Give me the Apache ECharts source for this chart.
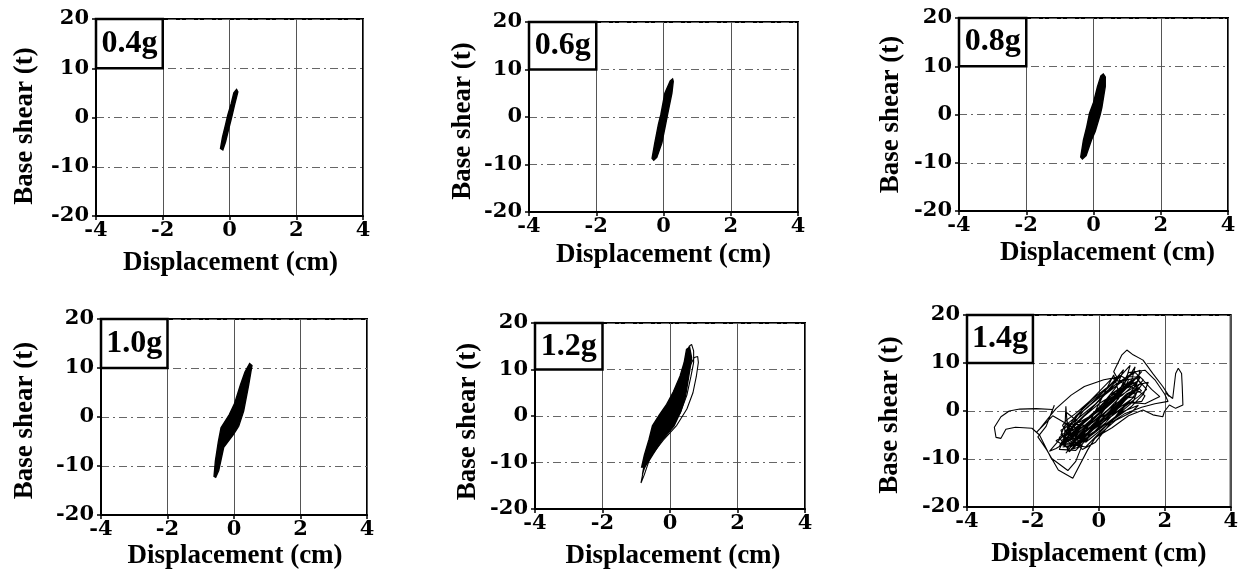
<!DOCTYPE html>
<html>
<head>
<meta charset="utf-8">
<script src="https://cdn.jsdelivr.net/npm/echarts@6/dist/echarts.min.js"></script>
<style>html,body{margin:0;padding:0;background:#fff;}#c{width:1241px;height:571px;}</style>
</head>
<body>
<div id="c"></div>
<script>
// ---- data (displacement cm, base shear t) ----
const labels = ['0.4g', '0.6g', '0.8g', '1.0g', '1.2g', '1.4g'];
const xTicks = [-4, -2, 0, 2, 4];
const yTicks = [-20, -10, 0, 10, 20];

const loop04 = [[0.21,5.7],[0.25,5.2],[0.15,2.5],[0.07,0.2],[-0.03,-2.5],[-0.12,-5.0],[-0.20,-6.6],[-0.27,-6.3],[-0.21,-4.0],[-0.12,-1.5],[-0.05,0.5],[0.05,2.8],[0.13,5.0]];
const loop06 = [[0.27,8.0],[0.29,7.5],[0.25,5.0],[0.12,0.5],[0.05,-2.0],[-0.05,-5.5],[-0.20,-8.5],[-0.29,-9.1],[-0.34,-8.7],[-0.26,-5.5],[-0.15,-1.5],[-0.08,0.5],[0.04,5.0],[0.20,7.6]];
const loop08 = [[0.29,8.4],[0.35,7.8],[0.35,5.8],[0.25,1.5],[0.20,0.0],[0.05,-3.5],[-0.06,-5.3],[-0.22,-8.5],[-0.33,-9.2],[-0.38,-8.8],[-0.30,-5.3],[-0.20,-2.5],[-0.12,0.2],[0.00,2.5],[0.12,5.8],[0.22,8.0]];
const loop10 = [[-0.60,-12.1],[-0.56,-9.0],[-0.47,-5.0],[-0.39,-2.2],[-0.14,0.5],[0.02,2.8],[0.19,6.5],[0.33,9.2],[0.47,10.9],[0.54,10.5],[0.44,6.5],[0.29,1.2],[0.14,-1.9],[-0.01,-3.5],[-0.31,-6.2],[-0.46,-10.9],[-0.55,-12.3]];
const loop12Fill = [[-0.84,-11.0],[-0.76,-8.4],[-0.62,-5.0],[-0.52,-2.1],[-0.32,0.2],[-0.10,2.5],[0.10,5.2],[0.30,8.6],[0.42,11.5],[0.49,14.3],[0.58,14.8],[0.64,12.5],[0.62,11.4],[0.46,4.3],[0.32,1.0],[0.12,-2.1],[-0.28,-5.6],[-0.58,-9.1],[-0.75,-11.0]];
const loop12Lines = [[-0.45,-5.0],[-0.65,-8.5],[-0.80,-12.2],[-0.86,-14.4],[-0.76,-12.6],[-0.62,-9.6],[-0.50,-7.4],[-0.30,-5.0],[0.00,-2.6],[0.30,0.6],[0.50,4.5],[0.62,8.5],[0.70,11.5],[0.70,14.0],[0.64,15.4],[0.57,15.0],[0.50,13.0],[0.42,10.5],[0.32,7.5],[0.18,4.5],[0.30,6.0],[0.55,10.2],[0.72,12.6],[0.82,12.8],[0.84,11.5],[0.78,8.5],[0.68,5.0],[0.50,1.5],[0.20,-2.0],[-0.20,-5.2],[-0.55,-8.5],[-0.78,-11.0],[-0.82,-12.6],[-0.72,-10.5],[-0.55,-7.0]];
const path14 = [
[0.0,0.0],[0.3,1.8],[0.7,4.0],[0.9,5.2],[0.6,3.5],[0.1,0.2],[-0.4,-2.8],[-0.8,-4.8],[-1.0,-5.6],[-0.7,-4.0],[-0.2,-1.0],[0.3,2.2],[0.8,5.0],[1.1,6.8],[1.2,7.5],[0.9,5.4],[0.4,2.0],[-0.2,-1.8],[-0.7,-4.5],[-1.1,-6.5],[-1.2,-7.2],[-0.9,-5.0],[-0.4,-2.2],[0.2,1.3],[0.7,4.2],[1.0,6.0],[1.3,8.2],[1.0,5.8],[0.5,2.5],[0.0,-0.5],[-0.5,-3.8],[-0.9,-6.2],[-1.3,-7.8],[-1.5,-8.4],[-1.2,-6.0],[-0.8,-3.4],
[-1.4,-1.0],[-1.9,-4.5],[-1.78,-3.6],[-1.3,0.5],[-0.84,3.3],[-0.44,5.1],[0.15,6.5],[0.55,7.0],[0.45,8.2],[0.7,11.7],[0.85,12.7],[1.04,11.7],[1.34,10.6],[1.64,7.8],[1.94,5.1],[2.14,3.0],[2.04,3.7],[2.24,2.6],[2.33,7.8],[2.41,8.9],[2.51,7.8],[2.53,5.1],[2.55,1.25],[2.33,0.55],[2.14,1.25],[1.99,-0.1],[1.94,-1.2],[1.64,-0.8],[1.34,0.2],[0.9,-1.0],[0.4,-3.5],[-0.1,-5.5],[-0.34,-8.1],
[-0.79,-14.0],[-1.23,-12.3],[-1.58,-8.1],[-1.85,-5.4],[-1.6,-3.2],[-1.35,1.2],[-1.4,0.3],[-1.9,0.5],[-2.4,0.4],[-2.72,0.0],[-2.97,-1.2],[-3.17,-3.4],[-3.12,-5.5],[-2.97,-5.7],[-2.82,-3.8],[-2.53,-3.4],[-2.03,-3.6],[-1.8,-5.0],[-1.45,-9.8],[-0.94,-12.4],[-0.7,-10.5],[-0.5,-7.0],
[-1.1,-7.5],[-0.6,-6.8],[0.2,-2.5],[0.9,3.0],[1.25,7.0],[0.9,7.2],[0.2,3.5],[-0.5,-1.5],[-1.0,-5.0],
[-1.2,-8.0],[-0.7,-8.2],[-0.2,-4.8],[0.5,0.5],[1.1,4.5],[1.35,6.5],[1.1,8.0],[0.5,5.5],[-0.1,1.5],[-0.8,-2.5],[-1.15,-4.0],
[-1.0,-6.8],[-0.4,-7.5],[0.1,-4.0],[0.6,-0.5],[1.0,2.5],[1.3,5.5],[1.2,6.3],[0.7,4.5],[0.0,1.5],[-0.6,-2.0],[-1.1,-6.0],
[-0.9,-8.5],[-0.5,-6.0],[0.0,-2.8],[0.5,1.5],[0.8,6.0],[0.95,9.5],[0.75,8.0],[0.3,4.5],[-0.3,0.0],[-0.85,-3.5],[-1.2,-5.5],
[-1.05,-7.0],[-0.3,-6.0],[0.4,-2.0],[1.0,1.0],[1.35,3.5],[1.5,6.0],[1.2,5.5],[0.6,3.0],[-0.2,-1.0],[-0.9,-4.5],
[-1.3,-6.2],[-0.9,-7.8],[-0.4,-5.0],[0.2,-1.5],[0.7,2.0],[1.1,4.2],[1.25,8.5],[1.0,7.8],[0.4,5.0],[-0.3,1.0],[-0.8,-1.8],[-1.05,-3.2],
[-1.15,-5.0],[-0.8,-6.5],[-0.1,-3.5],[0.6,0.0],[1.2,3.0],[1.45,4.5],[1.15,6.8],[0.5,6.2],[-0.2,2.5],[-0.7,-0.5],[-1.0,-2.0],
[-1.1,-3.0],[-0.9,-5.5],[-0.5,-8.0],[-0.1,-6.5],[0.3,-3.0],[0.8,1.5],[1.3,2.0],[1.4,3.2],[1.0,5.0],[0.4,6.8],[0.0,4.0],[-0.5,0.5],[-0.95,-4.0],
[-1.0,1.0],[-1.05,-7.0],[-0.75,-3.0],[-0.6,-7.2],[-0.25,-2.0],[0.1,2.8],[0.45,7.5],[0.6,4.0],[0.9,8.0],[1.4,8.5],[1.7,6.5],[2.0,3.5],[2.1,2.0],[1.7,1.5],[1.3,0.8],[0.8,-0.5],[0.2,-3.2],[-0.4,-6.5],
[-0.8,-4.0],[-0.3,-1.2],[0.3,2.5],[0.8,4.5],[1.2,7.5],[1.6,4.5],[1.85,3.0],[1.4,1.5],[0.9,1.8],[0.4,-1.0],[-0.2,-4.0],[-0.7,-6.0],[-1.0,-8.8],[-0.8,-7.0],
[-0.45,-4.0],[0.05,-0.8],[0.55,3.8],[1.0,6.5],[1.1,9.2],[0.85,6.5],[0.35,2.2],[-0.15,-1.5],[-0.65,-4.8],[-1.1,-6.8],[-0.6,-5.2],[0.0,-2.0],
[-0.95,-7.6],[-0.55,-4.5],[-0.05,-1.0],[0.45,2.0],[0.85,4.8],[1.15,5.6],[0.95,3.8],[0.35,0.6],[-0.25,-3.2],[-0.75,-5.8],[-1.0,-4.2],[-0.7,-1.0],[-0.3,1.6],[0.25,4.6],[0.65,7.4],[0.9,6.4],[0.6,2.6],[0.05,-1.4],[-0.45,-5.4],[-0.85,-8.0],[-0.65,-7.6],[-0.2,-3.6],[0.35,0.2],[0.85,3.6],[1.2,4.8],[1.05,2.0],[0.5,-1.2],[-0.1,-4.4],[-0.6,-7.0],[-1.05,-7.4],[-0.85,-3.6],[-0.45,0.2],[0.0,3.0],[0.5,6.6],[0.75,8.6],[0.55,5.2],[0.15,1.8],[-0.35,-1.8],[-0.9,-5.6],[-1.15,-6.6],[-0.75,-5.0],[-0.15,-2.2],[0.4,1.0],[0.95,3.4],[1.3,4.2],[1.0,6.0],[0.5,4.0],[-0.05,0.4],[-0.55,-3.0],[-1.05,-5.0],[-0.9,-6.6],[-0.4,-6.2],[0.1,-2.6],[0.65,1.2],[1.05,4.0],[1.25,5.0],[0.8,2.2],[0.2,-0.8],[-0.4,-3.0],[-0.95,-2.6],[-1.0,-0.2],[-0.6,-2.4],[-0.1,-0.4],[0.35,3.4],[0.8,5.6],[1.15,6.0],[0.7,3.2],[0.1,0.8],[-0.5,-2.6],[-0.8,-6.6],[-0.35,-4.6],[0.25,-0.8],[0.75,2.6],[1.1,3.0],[0.6,0.6],[0.0,-3.0],[-0.5,-5.6],[-0.95,-6.0],[-0.3,-5.0],[0.3,-2.4],[0.7,-0.2],[1.2,1.2],[1.0,-0.2],[0.5,-2.0],[-0.2,-6.2]
];

// ---- layout ----
const grids = [
  {left: 96,  top: 19,  width: 267, height: 197},
  {left: 529, top: 22,  width: 269, height: 190},
  {left: 959, top: 18,  width: 269, height: 193},
  {left: 101, top: 319, width: 266, height: 200},
  {left: 535, top: 323, width: 270, height: 188},
  {left: 967, top: 315, width: 269, height: 192}
];
const xGap = [34, 30, 29, 28, 34, 34];
const xShift = [2, 0, 28, 2, 6, 0];
const yGap = [57, 52, 54, 62, 53, 63];
const yShift = [17, 8, 0, 7, 11, 8];

const fills = [loop04, loop06, loop08, loop10, loop12Fill, null];
const lines = [null, null, null, null, loop12Lines, path14];

const tickFont = {fontFamily: 'DejaVu Serif', fontWeight: 'bold', fontSize: 21, color: '#000'};
const titleFont = {fontFamily: 'Liberation Serif', fontWeight: 'bold', fontSize: 27, color: '#000'};

function polyRenderer(points) {
  return function (params, api) {
    if (params.dataIndex !== 0) return null;
    return {
      type: 'polygon',
      shape: {points: points.map(function (p) { return api.coord(p); })},
      style: {fill: '#000', stroke: '#000', lineWidth: 1.4}
    };
  };
}

function markBox(label) {
  return {
    silent: true,
    itemStyle: {color: '#fff', borderColor: '#000', borderWidth: 2.5},
    label: {show: true, position: 'inside', fontFamily: 'Liberation Serif', fontWeight: 'bold', fontSize: 32, color: '#000'},
    data: [[{name: label, coord: [-4, 20]}, {coord: [-2, 10]}]]
  };
}

const option = {
  animation: false,
  backgroundColor: '#fff',
  grid: grids.map(function (g) {
    return Object.assign({show: true, borderColor: '#000', borderWidth: 2, backgroundColor: 'transparent', containLabel: false}, g);
  }),
  xAxis: grids.map(function (g, i) {
    return {
      type: 'value', gridIndex: i, min: xTicks[0], max: xTicks[xTicks.length - 1], interval: 2,
      name: 'Displacement (cm)', nameLocation: 'middle', nameGap: xGap[i],
      nameTextStyle: Object.assign({padding: [0, 0, 0, xShift[i]]}, titleFont),
      axisLine: {show: true, onZero: false, lineStyle: {color: '#000', width: 2}},
      axisTick: {show: true, inside: false, length: 4, lineStyle: {color: '#000', width: 1.5}},
      axisLabel: Object.assign({margin: 4, showMinLabel: true, showMaxLabel: true}, tickFont),
      splitLine: {show: true, lineStyle: {color: '#555', width: 1, type: 'solid'}}
    };
  }),
  yAxis: grids.map(function (g, i) {
    return {
      type: 'value', gridIndex: i, min: yTicks[0], max: yTicks[yTicks.length - 1], interval: 10,
      name: 'Base shear (t)', nameLocation: 'middle', nameGap: yGap[i],
      nameTextStyle: Object.assign({padding: [0, yShift[i], 0, 0]}, titleFont),
      axisLine: {show: true, onZero: false, lineStyle: {color: '#000', width: 2}},
      axisTick: {show: true, inside: false, length: 4, lineStyle: {color: '#000', width: 1.5}},
      axisLabel: Object.assign({margin: 7, showMinLabel: true, showMaxLabel: true}, tickFont),
      splitLine: {show: true, lineStyle: {color: '#666', width: 1, type: [8, 4, 2, 4]}}
    };
  }),
  series: []
};

labels.forEach(function (lab, i) {
  let boxAdded = false;
  if (fills[i]) {
    option.series.push({
      type: 'custom', xAxisIndex: i, yAxisIndex: i, clip: true,
      data: fills[i], encode: {x: 0, y: 1},
      renderItem: polyRenderer(fills[i]),
      markArea: markBox(lab)
    });
    boxAdded = true;
  }
  if (lines[i]) {
    const s = {
      type: 'line', xAxisIndex: i, yAxisIndex: i, data: lines[i],
      showSymbol: false, symbol: 'none', smooth: false, clip: true,
      lineStyle: {color: '#000', width: 1.1}
    };
    if (!boxAdded) s.markArea = markBox(lab);
    option.series.push(s);
  }
});

const chart = echarts.init(document.getElementById('c'), null, {renderer: 'canvas'});
chart.setOption(option);
</script>
</body>
</html>
